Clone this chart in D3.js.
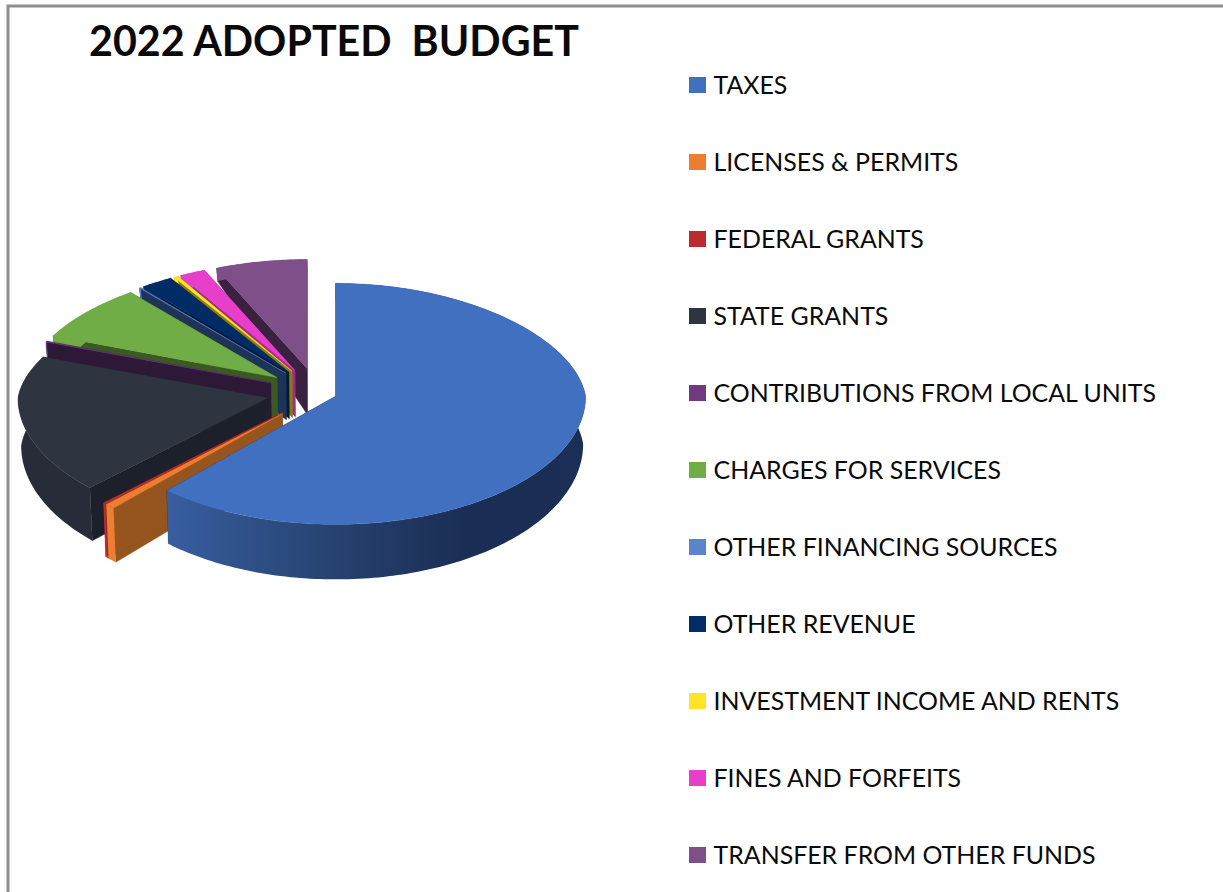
<!DOCTYPE html>
<html>
<head>
<meta charset="utf-8">
<script src="https://cdn.jsdelivr.net/npm/d3@7"></script>
<style>
    html, body { margin: 0; padding: 0; background: #fff; overflow: hidden; }
    text { font-family: Lato, "Open Sans", sans-serif; fill: #0a0a0a; white-space: pre; }
</style>
</head>
<body>
<div id="svg-area"></div>
<script>
// chart data (percent of total)
var categories = ["TAXES", "LICENSES & PERMITS", "FEDERAL GRANTS", "STATE GRANTS",
    "CONTRIBUTIONS FROM LOCAL UNITS", "CHARGES FOR SERVICES", "OTHER FINANCING SOURCES",
    "OTHER REVENUE", "INVESTMENT INCOME AND RENTS", "FINES AND FORFEITS", "TRANSFER FROM OTHER FUNDS"];
var values = [61.8, 0.64, 0.17, 18.5, 0.14, 8.0, 0.1, 2.17, 0.3, 1.78, 6.39];
var colors = ["#4270c0", "#ed7d31", "#bc2c2f", "#2e3440", "#6f3a80", "#70ad47",
    "#5b84ca", "#002c66", "#ffe427", "#e83fcb", "#7e4f88"];
var wallColors = ["#1d3358", "#96541f", "#8a1f20", "#1b202a", "#2d1838", "#3b5a22",
    "#1e3358", "#001a3c", "#8a7a10", "#a02a90", "#3a2140"];
var titleText = "2022 ADOPTED  BUDGET";

// dimensions of svg container
var svgWidth = 1223;
var svgHeight = 892;

// pie geometry
var center = { x: 317, y: 392 };
var radiusX = 250;
var narrowBack = 0.08;   // the far side of the disk is a little narrower
var radiusBack = 109;    // vertical radius behind the slice tip
var radiusBackTaxes = 113;
var radiusFront = 128;   // vertical radius in front of it (perspective)
var squeezeBack = 0.48;
var squeezeFront = 0.6;
var explodeOut = 50;
var explodeTaxes = 20;

// thickness of the pie changes with screen height (perspective)
var depthScale = d3.scaleLinear()
    .domain([265, 367, 523])
    .range([12, 46, 55])
    .clamp(true);

var svg = d3.select("#svg-area").append("svg")
    .attr("width", svgWidth)
    .attr("height", svgHeight);

var defs = svg.append("defs");

// shading on the front of the taxes slice
var taxesRim = defs.append("linearGradient")
    .attr("id", "taxes-rim")
    .attr("gradientUnits", "userSpaceOnUse")
    .attr("x1", 168).attr("x2", 585).attr("y1", 0).attr("y2", 0);
taxesRim.append("stop").attr("offset", 0).attr("stop-color", "#375ea0");
taxesRim.append("stop").attr("offset", 0.4).attr("stop-color", "#26426f");
taxesRim.append("stop").attr("offset", 0.72).attr("stop-color", "#1a2d54");
taxesRim.append("stop").attr("offset", 1).attr("stop-color", "#1a2e56");

// frame round the picture
svg.append("path")
    .attr("d", d3.line()([[8, svgHeight], [8, 6], [svgWidth, 6]]))
    .attr("fill", "none")
    .attr("stroke", "#8e8e8e")
    .attr("stroke-width", 3);

// title
svg.append("text")
    .attr("x", 89)
    .attr("y", 56)
    .attr("font-size", 41.2)
    .attr("font-weight", 700)
    .text(titleText);

//////// Pie ////////
var pie = d3.pie().sort(null).value(d => d);
var slices = pie(values);
var line = d3.line();
var pieGroup = svg.append("g");

// one point on the rim of a slice, seen from its tip
function project(tip, angle, back) {
    var c = Math.cos(angle);
    var rx = radiusX * (1 - narrowBack * Math.max(0, c));
    return [tip.x + rx * Math.sin(angle),
        tip.y - (c > 0 ? back : radiusFront) * c];
}

// same point on the underside of the pie
function drop(p) {
    return [p[0] + (335 - p[0]) * 0.01, p[1] + depthScale(p[1])];
}

function drawSlice(s, i) {
    var mid = (s.startAngle + s.endAngle) / 2;
    var out = i === 0 ? explodeTaxes : explodeOut;
    var back = i === 0 ? radiusBackTaxes : radiusBack;
    var squeeze = Math.cos(mid) > 0 ? squeezeBack : squeezeFront;
    var tip = {
        x: center.x + out * Math.sin(mid),
        y: center.y - out * squeeze * Math.cos(mid)
    };

    var steps = Math.max(2, Math.ceil((s.endAngle - s.startAngle) / 0.02));
    var arc = d3.range(steps + 1).map(k =>
        project(tip, s.startAngle + (s.endAngle - s.startAngle) * k / steps, back));
    var tipPoint = [tip.x, tip.y];
    var g = pieGroup.append("g").attr("class", "slice");

    // cut faces
    [arc[0], arc[steps]].forEach(function (edge) {
        g.append("path")
            .attr("d", line([tipPoint, edge, drop(edge), drop(tipPoint)]) + "Z")
            .attr("fill", wallColors[i])
            .attr("stroke", wallColors[i])
            .attr("stroke-width", 0.4);
    });

    // outer rim
    var rimFill = i === 0 ? "url(#taxes-rim)" : i === 3 ? "#272c38" : colors[i];
    g.append("path")
        .attr("d", line(arc.concat(arc.map(drop).reverse())) + "Z")
        .attr("fill", rimFill);

    // top face
    g.append("path")
        .attr("d", line([tipPoint].concat(arc)) + "Z")
        .attr("fill", colors[i])
        .attr("stroke", colors[i])
        .attr("stroke-width", 0.4);
}

// paint from the back slice forward, taxes last
slices.map((s, i) => i).reverse().forEach(i => drawSlice(slices[i], i));

//////// Legend ////////
var legendY = d3.scalePoint()
    .domain(categories)
    .range([85, 855]);

var legend = svg.selectAll(".legend-row")
    .data(categories)
    .enter()
    .append("g")
    .attr("class", "legend-row")
    .attr("transform", d => `translate(689, ${legendY(d)})`);

legend.append("rect")
    .attr("y", -8)
    .attr("width", 17)
    .attr("height", 16)
    .attr("fill", (d, i) => colors[i]);

legend.append("text")
    .attr("x", 24.5)
    .attr("y", 9)
    .attr("font-size", 24.9)
    .text(d => d);
</script>
</body>
</html>
